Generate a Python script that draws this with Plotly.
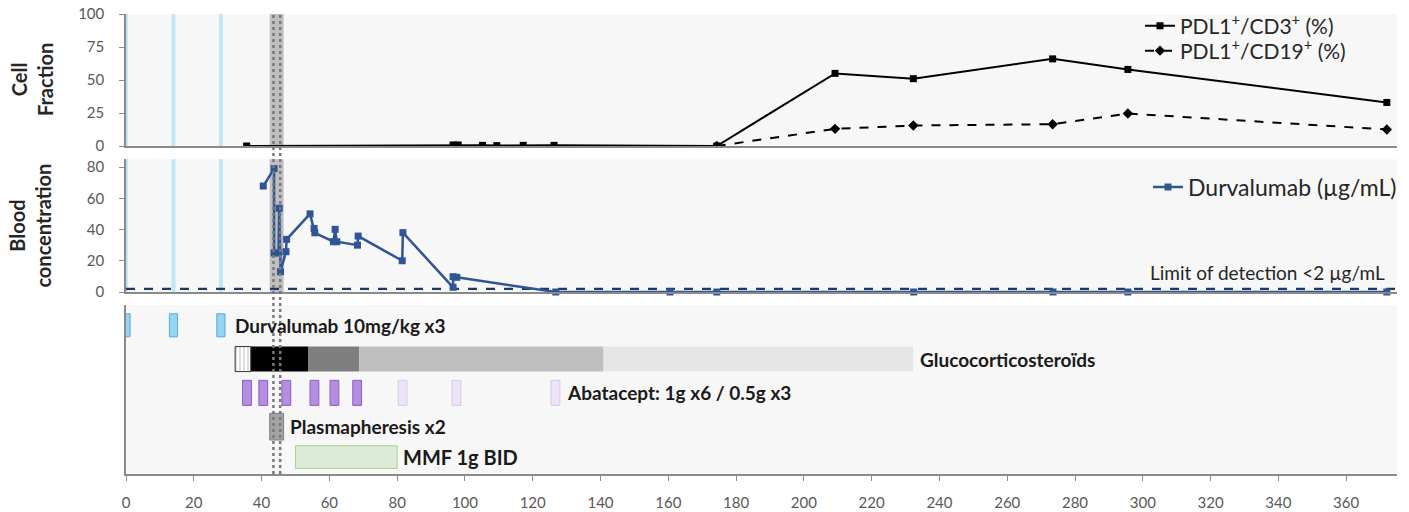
import plotly.graph_objects as go

# ---------------- data ----------------
cd3_days = [35.6, 96.5, 98.0, 105.2, 109.4, 117.2, 126.3, 174.3, 209.2, 232.3, 273.4, 295.6, 372.0]
cd3_vals = [0, 0.8, 0.8, 0.5, 0.3, 0.5, 0.5, 0, 55, 51, 66, 58, 33]

cd19_days = [174.3, 209.2, 232.3, 273.4, 295.6, 372.0]
cd19_vals = [0, 13, 15.5, 16.5, 24.6, 12.5]

durva_days = [40.5, 43.7, 43.7, 45.0, 45.2, 45.6, 47.2, 47.4, 54.3, 55.5, 55.7, 61.2, 61.7, 62.2,
              68.3, 68.5, 81.5, 81.7, 96.5, 96.5, 97.6, 126.8, 160.5, 174.3, 232.4, 273.5, 295.6, 372.0]
durva_vals = [67.8, 79, 25, 25, 53.6, 13, 25.8, 33.7, 50, 40.7, 37.9, 32.2, 40.1, 32.2,
              30, 35.8, 20, 38, 3, 9.8, 9.4, 0, 0, 0, 0, 0, 0, 0]
lod_value = 2

durva_dose_days = [0, 14, 28]
plasma_days = [43.5, 45.5]
plasma_period = [42.4, 46.5]

gluco_starts = [32.2, 36.8, 53.7, 68.8, 140.9]
gluco_ends = [36.8, 53.7, 68.8, 140.9, 232.2]

abatacept_days = [35.7, 40.5, 47.3, 55.6, 61.5, 68.2, 81.6, 97.5, 126.7]
abatacept_dose_g = [1, 1, 1, 1, 1, 1, 0.5, 0.5, 0.5]

mmf_period = [50.0, 80.0]

x_ticks = list(range(0, 361, 20))
cell_ticks = [0, 25, 50, 75, 100]
blood_ticks = [0, 20, 40, 60, 80]

# ---------------- styling ----------------
W, H = 1409, 512
X_RANGE = [0, 375]
XDOM = [126 / W, 1397 / W]
TOP_DOM = [1 - 146 / H, 1 - 14 / H]
MID_DOM = [1 - 292 / H, 1 - 159.2 / H]
BOT_DOM = [1 - 474 / H, 1 - 305 / H]
FONT = "Lato"
AXC = "#8a8a8a"
TICKC = "#595959"

lane = {"durva": 8.8, "gluco": 6.8, "abat": 4.8, "plasma": 2.8, "mmf": 1.0}

fig = go.Figure()

# top panel
fig.add_trace(go.Scatter(x=cd3_days, y=cd3_vals, mode="lines+markers", xaxis="x", yaxis="y",
                         name="PDL1<sup>+</sup>/CD3<sup>+</sup> (%)",
                         line=dict(color="black", width=2),
                         marker=dict(symbol="square", size=7, color="black"), legend="legend"))
fig.add_trace(go.Scatter(x=cd19_days, y=cd19_vals, mode="lines+markers", xaxis="x", yaxis="y",
                         name="PDL1<sup>+</sup>/CD19<sup>+</sup> (%)",
                         line=dict(color="black", width=2, dash="dash"),
                         marker=dict(symbol="diamond", size=8, color="black"), legend="legend3"))

# middle panel
fig.add_trace(go.Scatter(x=X_RANGE, y=[lod_value, lod_value], mode="lines", xaxis="x2", yaxis="y2",
                         line=dict(color="#1f3864", width=2.2, dash="dash"), showlegend=False,
                         hoverinfo="skip"))
fig.add_trace(go.Scatter(x=durva_days, y=durva_vals, mode="lines+markers", xaxis="x2", yaxis="y2",
                         name="Durvalumab (µg/mL)",
                         line=dict(color="#2f5597", width=2.5),
                         marker=dict(symbol="square", size=7, color="#2f5597"), legend="legend2",
                         cliponaxis=False))

# bottom panel (timeline)
bw = 2.4
fig.add_trace(go.Bar(orientation="h", y=[lane["durva"]] * len(durva_dose_days),
                     base=[d - bw / 2 for d in durva_dose_days], x=[bw] * len(durva_dose_days),
                     width=1.36, xaxis="x3", yaxis="y3", showlegend=False, cliponaxis=False,
                     marker=dict(color="#93d5f3", line=dict(color="#5aa9d6", width=1))))

gluco_cols = ["white", "#000000", "#7f7f7f", "#bfbfbf", "#e6e6e6"]
fig.add_trace(go.Bar(orientation="h", y=[lane["gluco"]] * (len(gluco_starts) - 1),
                     base=gluco_starts[1:], x=[e - s for s, e in zip(gluco_starts[1:], gluco_ends[1:])],
                     width=1.48, xaxis="x3", yaxis="y3", showlegend=False,
                     marker=dict(color=gluco_cols[1:], line=dict(width=0))))
fig.add_trace(go.Bar(orientation="h", y=[lane["gluco"]], base=[gluco_starts[0]],
                     x=[gluco_ends[0] - gluco_starts[0]], width=1.48, xaxis="x3", yaxis="y3",
                     showlegend=False,
                     marker=dict(color="white", line=dict(color="#333333", width=1),
                                 pattern=dict(shape="|", fgcolor="#555555", bgcolor="white",
                                              size=4, solidity=0.2))))

abw = 2.6
abat_fill = ["#b48fe0" if g >= 1 else "#eee4f8" for g in abatacept_dose_g]
abat_line = ["#8a5cc4" if g >= 1 else "#d8c6ee" for g in abatacept_dose_g]
for d, fc, lc in zip(abatacept_days, abat_fill, abat_line):
    fig.add_trace(go.Bar(orientation="h", y=[lane["abat"]], base=[d - abw / 2], x=[abw],
                         width=1.48, xaxis="x3", yaxis="y3", showlegend=False,
                         marker=dict(color=fc, line=dict(color=lc, width=1))))

fig.add_trace(go.Bar(orientation="h", y=[lane["plasma"]], base=[plasma_period[0]],
                     x=[plasma_period[1] - plasma_period[0]], width=1.58, xaxis="x3", yaxis="y3",
                     showlegend=False, marker=dict(color="#a3a3a3", line=dict(color="#808080", width=1))))
fig.add_trace(go.Bar(orientation="h", y=[lane["mmf"]], base=[mmf_period[0]],
                     x=[mmf_period[1] - mmf_period[0]], width=1.34, xaxis="x3", yaxis="y3",
                     showlegend=False, marker=dict(color="#dcebd5", line=dict(color="#a9d18e", width=1))))

# ---------------- shapes ----------------
shapes = []
for yd in ["y domain", "y2 domain"]:
    for d in durva_dose_days:
        shapes.append(dict(type="rect", xref="x" if yd == "y domain" else "x2", yref=yd,
                           x0=d - 0.6, x1=d + 0.6, y0=0, y1=1,
                           fillcolor="#c3e6f6", line=dict(width=0), layer="below"))
    shapes.append(dict(type="rect", xref="x" if yd == "y domain" else "x2", yref=yd,
                       x0=plasma_period[0], x1=plasma_period[1], y0=0, y1=1,
                       fillcolor="#bfbfbf", line=dict(width=0), layer="below"))
for d in plasma_days:
    shapes.append(dict(type="line", xref="x3", yref="paper", x0=d, x1=d,
                       y0=BOT_DOM[0], y1=1 - 13 / H,
                       line=dict(color="#7a7a7a", width=2.5, dash="dot"), layer="above"))

# ---------------- annotations ----------------
ann = []
ann.append(dict(text="<b>Cell<br>Fraction</b>", xref="paper", yref="paper", x=32 / W,
                y=(TOP_DOM[0] + TOP_DOM[1]) / 2, textangle=-90, showarrow=False,
                font=dict(family=FONT, size=20, color="#262626"), xanchor="center", yanchor="middle"))
ann.append(dict(text="<b>Blood<br>concentration</b>", xref="paper", yref="paper", x=30 / W,
                y=(MID_DOM[0] + MID_DOM[1]) / 2, textangle=-90, showarrow=False,
                font=dict(family=FONT, size=20, color="#262626"), xanchor="center", yanchor="middle"))
ann.append(dict(text="Limit of detection &lt;2 µg/mL", xref="x2", yref="y2", x=372, y=lod_value,
                xanchor="right", yanchor="bottom", yshift=3, showarrow=False,
                font=dict(family=FONT, size=19, color="#262626")))

label_font = dict(family=FONT, size=19, color="#1a1a1a")
ann.append(dict(text="<b>Durvalumab 10mg/kg x3</b>", xref="x3", yref="y3",
                x=durva_dose_days[-1] + bw / 2, y=lane["durva"], xanchor="left", xshift=8,
                showarrow=False, font=label_font))
ann.append(dict(text="<b>Glucocorticosteroïds</b>", xref="x3", yref="y3", x=gluco_ends[-1],
                y=lane["gluco"], xanchor="left", xshift=5, showarrow=False, font=label_font))
ann.append(dict(text="<b>Abatacept: 1g x6 / 0.5g x3</b>", xref="x3", yref="y3",
                x=abatacept_days[-1] + abw / 2, y=lane["abat"], xanchor="left", xshift=5,
                showarrow=False, font=label_font))
ann.append(dict(text="<b>Plasmapheresis x2</b>", xref="x3", yref="y3", x=plasma_period[1],
                y=lane["plasma"], xanchor="left", xshift=4, showarrow=False, font=label_font))
ann.append(dict(text="<b>MMF 1g BID</b>", xref="x3", yref="y3", x=mmf_period[1],
                y=lane["mmf"], xanchor="left", xshift=4, showarrow=False,
                font=dict(label_font, size=20)))

# ---------------- layout ----------------
xbase = dict(range=X_RANGE, domain=XDOM, showgrid=False, zeroline=False, showline=True,
             linecolor=AXC, linewidth=1.5, fixedrange=True, automargin=False)
ybase = dict(showgrid=False, zeroline=False, showline=True, linecolor=AXC, linewidth=1.5,
             ticks="outside", ticklen=5, tickcolor=AXC, automargin=False,
             tickfont=dict(family=FONT, size=15, color=TICKC), ticklabelstandoff=12)
leg = dict(bgcolor="rgba(0,0,0,0)", font=dict(family=FONT, size=21, color="#262626"),
           itemwidth=30, yanchor="middle", borderwidth=0)

fig.update_layout(
    width=W, height=H, margin=dict(l=0, r=0, t=0, b=0, autoexpand=False),
    paper_bgcolor="white", plot_bgcolor="#f7f7f7", barmode="overlay",
    font=dict(family=FONT, color="#262626"),
    xaxis=dict(xbase, anchor="y", showticklabels=False, ticks=""),
    xaxis2=dict(xbase, anchor="y2", showticklabels=False, ticks=""),
    xaxis3=dict(xbase, anchor="y3", ticks="outside", ticklen=5, tickcolor=AXC, tickvals=x_ticks,
                tickfont=dict(family=FONT, size=15, color=TICKC), ticklabelstandoff=9),
    yaxis=dict(ybase, domain=TOP_DOM, anchor="x", range=[0, 100], tickvals=cell_ticks),
    yaxis2=dict(ybase, domain=MID_DOM, anchor="x2", range=[0, 85], tickvals=blood_ticks),
    yaxis3=dict(domain=BOT_DOM, anchor="x3", range=[0, 10], showgrid=False, zeroline=False,
                showline=True, linecolor=AXC, linewidth=1.5, showticklabels=False, ticks="",
                automargin=False),
    legend=dict(leg, x=1140 / W, xanchor="left", y=1 - 26 / H),
    legend3=dict(leg, x=1140 / W, xanchor="left", y=1 - 51 / H),
    legend2=dict(leg, x=1402 / W, xanchor="right", y=1 - 187 / H,
                 font=dict(family=FONT, size=23, color="#262626")),
    shapes=shapes, annotations=ann,
)

fig.write_html("out.html")
